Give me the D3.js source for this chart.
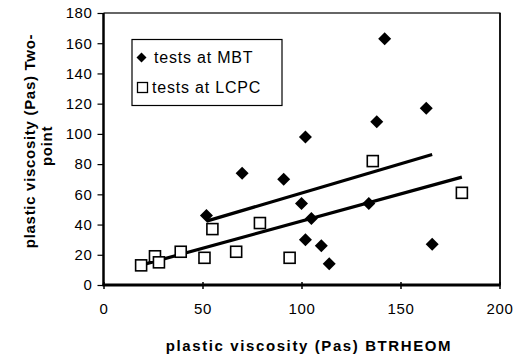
<!DOCTYPE html>
<html><head><meta charset="utf-8">
<script src="https://cdn.jsdelivr.net/npm/d3@7"></script>
<style>body{margin:0;background:#fff}svg{display:block}text{font-family:"Liberation Sans",Arial,sans-serif;fill:#000}</style>
</head><body>
<svg id="c" width="519" height="360"></svg>
<script>
const mbtX = [52,70,91,100,102,102,105,110,114,134,138,142,163,166];
const mbtY = [46,74,70,54,98,30,44,26,14,54,108,163,117,27];
const lcpcX = [19,26,28,39,51,55,67,79,94,136,181];
const lcpcY = [13,19,15,22,18,37,22,41,18,82,61];
const xTicks = [0,50,100,150,200];
const yTicks = [0,20,40,60,80,100,120,140,160,180];
const seriesNames = ["tests at MBT","tests at LCPC"];
const xTitle = "plastic viscosity (Pas) BTRHEOM";
const yTitle = ["plastic viscosity (Pas) Two-","point"];

const svg = d3.select("#c");
const L=103.5, R=499.5, T=13, B=285;
const x = d3.scaleLinear().domain([0,200]).range([L,R]);
const y = d3.scaleLinear().domain([0,180]).range([B,T]);

// frame
svg.append("line").attr("x1",L).attr("x2",R+1).attr("y1",T).attr("y2",T).attr("stroke","#333").attr("stroke-width",1.3);
svg.append("line").attr("x1",R+0.5).attr("x2",R+0.5).attr("y1",T).attr("y2",B).attr("stroke","#000").attr("stroke-width",1.8);

// axes
const yAx = svg.append("g").attr("transform",`translate(${L},0)`)
  .call(d3.axisLeft(y).tickValues(yTicks).tickSize(6).tickPadding(5).tickFormat(d3.format("d")));
yAx.select(".domain").remove();
yAx.selectAll("line").attr("stroke","#000").attr("stroke-width",1.2);
yAx.selectAll("text").style("font-size","15px").style("letter-spacing","0.6px").attr("font-family",null);

const xAx = svg.append("g").attr("transform",`translate(0,${B})`)
  .call(d3.axisBottom(x).tickValues(xTicks).tickSize(4).tickPadding(14).tickFormat(d3.format("d")));
xAx.select(".domain").remove();
xAx.selectAll("line").attr("stroke","#000").attr("stroke-width",1.5).attr("y1",-3);
xAx.selectAll("text").style("font-size","15px").style("letter-spacing","0.6px").attr("font-family",null);

svg.append("line").attr("x1",L).attr("x2",L).attr("y1",T).attr("y2",B+1).attr("stroke","#000").attr("stroke-width",2.5);
svg.append("line").attr("x1",L-1).attr("x2",R+1).attr("y1",B).attr("y2",B).attr("stroke","#000").attr("stroke-width",3);

// regression lines
function fit(xs, ys){
  const mx=d3.mean(xs), my=d3.mean(ys);
  let sxy=0,sxx=0; xs.forEach((v,i)=>{sxy+=(v-mx)*(ys[i]-my); sxx+=(v-mx)*(v-mx);});
  const b=sxy/sxx, a=my-b*mx;
  const x0=d3.min(xs), x1=d3.max(xs);
  return [[x0,a+b*x0],[x1,a+b*x1]];
}
const lineGen = d3.line().x(d=>x(d[0])).y(d=>y(d[1]));
[fit(mbtX,mbtY), fit(lcpcX,lcpcY)].forEach(seg=>{
  svg.append("path").attr("d",lineGen(seg)).attr("stroke","#000").attr("stroke-width",3.2).attr("fill","none");
});

// points
const diamond = "M0,-6.5L6.5,0L0,6.5L-6.5,0Z";
svg.append("g").selectAll("path").data(mbtX.map((v,i)=>[v,mbtY[i]])).join("path")
  .attr("d",diamond).attr("transform",d=>`translate(${x(d[0])},${y(d[1])})`).attr("fill","#000");
svg.append("g").selectAll("rect").data(lcpcX.map((v,i)=>[v,lcpcY[i]])).join("rect")
  .attr("x",d=>x(d[0])-5.5).attr("y",d=>y(d[1])-5.5).attr("width",11).attr("height",11)
  .attr("fill","#fff").attr("stroke","#000").attr("stroke-width",1.6);

// legend
const lg = svg.append("g");
lg.append("rect").attr("x",132).attr("y",39.5).attr("width",150).attr("height",66).attr("fill","#fff").attr("stroke","#000").attr("stroke-width",1.2);
lg.append("path").attr("d","M0,-5L5,0L0,5L-5,0Z").attr("transform","translate(141.5,57.5)").attr("fill","#000");
lg.append("rect").attr("x",137.5).attr("y",82.5).attr("width",10).attr("height",10).attr("fill","#fff").attr("stroke","#000").attr("stroke-width",1.3);
lg.append("text").attr("x",154).attr("y",63).style("font-size","16px").style("letter-spacing","0.8px").text(seriesNames[0]);
lg.append("text").attr("x",152).attr("y",93).style("font-size","16px").style("letter-spacing","0.8px").text(seriesNames[1]);

// titles
svg.append("text").attr("x",309).attr("y",351).attr("text-anchor","middle")
  .style("font-size","15px").style("font-weight","bold").style("letter-spacing","1.6px").text(xTitle);
yTitle.forEach((t,i)=>{
  svg.append("text").attr("transform",`translate(${35+i*17},${i===0?141:146}) rotate(-90)`).attr("text-anchor","middle")
    .style("font-size","15px").style("font-weight","bold").style("letter-spacing","0.7px").text(t);
});
</script>
</body></html>
